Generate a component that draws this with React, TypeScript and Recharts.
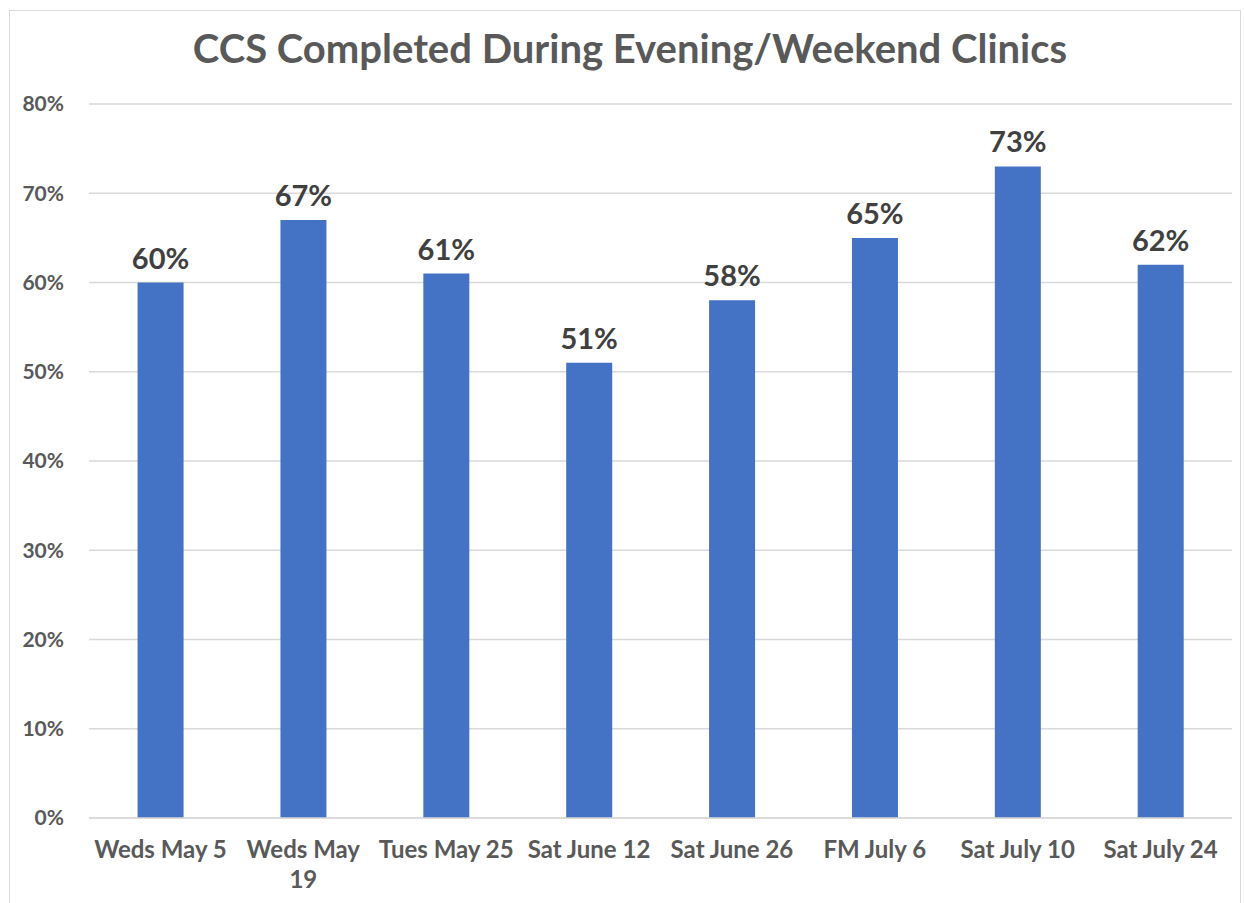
import { BarChart, Bar, XAxis, YAxis, CartesianGrid, LabelList } from "recharts";

const clinics = [
  "Weds May 5",
  "Weds May 19",
  "Tues May 25",
  "Sat June 12",
  "Sat June 26",
  "FM July 6",
  "Sat July 10",
  "Sat July 24",
];
// how each category label is wrapped under the axis
const tickLines: Record<string, string[]> = {
  "Weds May 19": ["Weds May", "19"],
};
const completed = [0.6, 0.67, 0.61, 0.51, 0.58, 0.65, 0.73, 0.62];
const yTicks = [0, 0.1, 0.2, 0.3, 0.4, 0.5, 0.6, 0.7, 0.8];

const data = clinics.map((name, i) => ({ name, value: completed[i] }));

const FONT = "Lato, 'Open Sans', sans-serif";
const pct = (v: number) => `${Math.round(v * 100)}%`;

function ClinicTick(props: any) {
  const { x, y, payload } = props;
  const lines = tickLines[payload.value] ?? [payload.value];
  return (
    <text
      x={x}
      y={y}
      textAnchor="middle"
      fontFamily={FONT}
      fontWeight={700}
      fontSize={24}
      fill="#595959"
    >
      {lines.map((l, i) => (
        <tspan key={i} x={x} dy={i === 0 ? 20 : 30}>
          {l}
        </tspan>
      ))}
    </text>
  );
}

export default function App() {
  return (
    <div style={{ position: "absolute", left: 0, top: 0, width: 1244, height: 903, background: "#fff" }}>
      <div
        style={{
          position: "absolute",
          left: 9,
          top: 10,
          width: 1230,
          height: 900,
          border: "1px solid #d9d9d9",
        }}
      />
      <div
        style={{
          position: "absolute",
          left: 14,
          top: 24,
          width: 1232,
          textAlign: "center",
          fontFamily: FONT,
          fontWeight: 700,
          fontSize: 40,
          color: "#595959",
        }}
      >
        CCS Completed During Evening/Weekend Clinics
      </div>
      <div style={{ position: "absolute", left: 0, top: 0 }}>
        <BarChart
          width={1244}
          height={903}
          data={data}
          margin={{ top: 104, right: 12, left: 0, bottom: 0 }}
          barCategoryGap="34%"
        >
          <CartesianGrid vertical={false} stroke="#d9d9d9" strokeWidth={1.5} />
          <XAxis
            dataKey="name"
            height={85}
            tickLine={false}
            axisLine={{ stroke: "#d9d9d9", strokeWidth: 1.5 }}
            interval={0}
            tick={<ClinicTick />}
            tickMargin={14}
          />
          <YAxis
            width={89}
            domain={[0, 0.8]}
            ticks={yTicks}
            tickFormatter={pct}
            axisLine={false}
            tickLine={false}
            tickMargin={19}
            tick={{ fontFamily: FONT, fontWeight: 700, fontSize: 21, fill: "#595959" }}
          />
          <Bar dataKey="value" fill="#4472c4" isAnimationActive={false}>
            <LabelList
              dataKey="value"
              position="top"
              offset={14}
              formatter={(v: any) => pct(Number(v))}
              style={{ fontFamily: FONT, fontWeight: 700, fontSize: 29, fill: "#404040" }}
            />
          </Bar>
        </BarChart>
      </div>
    </div>
  );
}
